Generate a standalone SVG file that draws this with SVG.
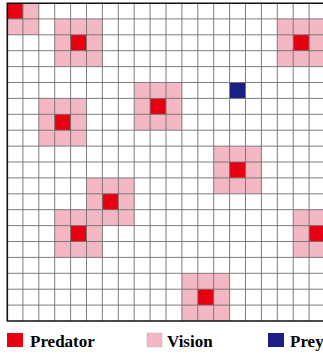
<svg xmlns="http://www.w3.org/2000/svg" width="323" height="356" viewBox="0 0 323 356">
  <style>
    .vision { fill: #F3B8C4; }
    .pred { fill: #E60012; }
    .prey { fill: #1C1F86; }
    .grid { stroke: #6f6f6f; stroke-width: 0.9; fill: none; }
    .border { stroke: #111; stroke-width: 1.6; fill: none; }
    .lbl { font-family: "Liberation Serif", "Times New Roman", serif; font-weight: bold; font-size: 17px; fill: #000; }
  </style>
  <defs>
    <clipPath id="gridclip"><rect x="7" y="3" width="318" height="318"/></clipPath>
  </defs>
  <rect x="0" y="0" width="323" height="356" fill="#fff"/>
  <g clip-path="url(#gridclip)">
    <g id="predator-1" transform="translate(-8.9,-12.9)"><rect class="vision" width="47.7" height="47.7"/><rect class="pred" x="15.9" y="15.9" width="15.9" height="15.9"/></g>
    <g id="predator-2" transform="translate(54.7,18.9)"><rect class="vision" width="47.7" height="47.7"/><rect class="pred" x="15.9" y="15.9" width="15.9" height="15.9"/></g>
    <g id="predator-3" transform="translate(277.3,18.9)"><rect class="vision" width="47.7" height="47.7"/><rect class="pred" x="15.9" y="15.9" width="15.9" height="15.9"/></g>
    <g id="predator-4" transform="translate(38.8,98.4)"><rect class="vision" width="47.7" height="47.7"/><rect class="pred" x="15.9" y="15.9" width="15.9" height="15.9"/></g>
    <g id="predator-5" transform="translate(134.2,82.5)"><rect class="vision" width="47.7" height="47.7"/><rect class="pred" x="15.9" y="15.9" width="15.9" height="15.9"/></g>
    <g id="predator-6" transform="translate(213.7,146.1)"><rect class="vision" width="47.7" height="47.7"/><rect class="pred" x="15.9" y="15.9" width="15.9" height="15.9"/></g>
    <g id="predator-7" transform="translate(86.5,177.9)"><rect class="vision" width="47.7" height="47.7"/><rect class="pred" x="15.9" y="15.9" width="15.9" height="15.9"/></g>
    <g id="predator-8" transform="translate(54.7,209.7)"><rect class="vision" width="47.7" height="47.7"/><rect class="pred" x="15.9" y="15.9" width="15.9" height="15.9"/></g>
    <g id="predator-9" transform="translate(293.2,209.7)"><rect class="vision" width="47.7" height="47.7"/><rect class="pred" x="15.9" y="15.9" width="15.9" height="15.9"/></g>
    <g id="predator-10" transform="translate(181.9,273.3)"><rect class="vision" width="47.7" height="47.7"/><rect class="pred" x="15.9" y="15.9" width="15.9" height="15.9"/></g>
    <g id="prey-1"><rect class="prey" x="229.6" y="82.5" width="15.9" height="15.9"/></g>
  </g>
  <g id="grid">
    <path class="grid" d="M22.9 3V321M38.8 3V321M54.7 3V321M70.6 3V321M86.5 3V321M102.4 3V321M118.3 3V321M134.2 3V321M150.1 3V321M166 3V321M181.9 3V321M197.8 3V321M213.7 3V321M229.6 3V321M245.5 3V321M261.4 3V321M277.3 3V321M293.2 3V321M309.1 3V321M7 18.9H323M7 34.8H323M7 50.7H323M7 66.6H323M7 82.5H323M7 98.4H323M7 114.3H323M7 130.2H323M7 146.1H323M7 162H323M7 177.9H323M7 193.8H323M7 209.7H323M7 225.6H323M7 241.5H323M7 257.4H323M7 273.3H323M7 289.2H323M7 305.1H323"/>
    <path class="border" d="M330 3.3H7.3V321H330"/>
  </g>
  <g id="legend">
    <rect class="pred" x="7" y="333" width="16" height="14"/>
    <text class="lbl" x="30" y="347">Predator</text>
    <rect class="vision" x="147" y="333" width="15" height="14" stroke="#bbb" stroke-width="0.6"/>
    <text class="lbl" x="167" y="347">Vision</text>
    <rect class="prey" x="268" y="333" width="16" height="14"/>
    <text class="lbl" x="290" y="347">Prey</text>
  </g>
</svg>
